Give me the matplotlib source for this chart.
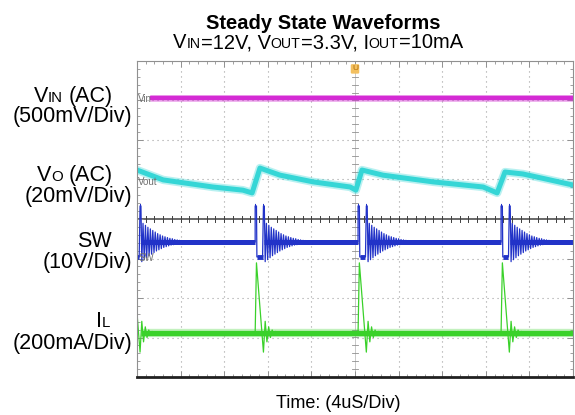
import numpy as np
import matplotlib.pyplot as plt
from matplotlib.ticker import MultipleLocator
from matplotlib.transforms import IdentityTransform

plt.rcParams['font.family'] = ['Liberation Sans', 'DejaVu Sans']

W, H = 575, 415

# scope screen is 10 x 8 divisions, all trace values are in divisions
vin_level = 3.06
vin_start = 0.3

vout_x = [0.00, 0.60, 1.74, 2.43, 2.64, 2.82, 3.28, 4.04, 4.89, 5.02,
          5.16, 5.64, 6.79, 7.94, 8.26, 8.44, 8.85, 9.47, 10.0]
vout_y = [1.24, 0.99, 0.81, 0.73, 0.66, 1.29, 1.11, 0.94, 0.81, 0.73,
          1.24, 1.11, 0.94, 0.81, 0.66, 1.19, 1.14, 0.99, 0.86]

# switching events (time of first SW pulse), pulse-skipping at light load
events = [-0.12, 2.71, 5.07, 8.35]

sw_base, sw_high, sw_low = -0.58, 0.33, -0.96
sw_ring = [0.50, 0.47, 0.45, 0.42, 0.40, 0.37, 0.35, 0.33, 0.31, 0.29, 0.27, 0.25,
           0.23, 0.21, 0.20, 0.18, 0.17, 0.15, 0.14, 0.13, 0.12, 0.11, 0.10, 0.09,
           0.08, 0.08, 0.07, 0.06, 0.06, 0.05, 0.05, 0.04, 0.04, 0.03]

il_base, il_peak, il_trough = -2.89, -1.11, -3.37
il_ring = [0.30, 0.22, 0.16, 0.11, 0.08, 0.05, 0.04]

c_vin, c_vout, c_sw, c_il = '#d42bd4', '#35d6d6', '#2233c8', '#3ad12a'

fig = plt.figure(figsize=(W / 100, H / 100), dpi=100)
ax = fig.add_axes([137 / W, 1 - 377 / H, 436 / W, 316 / H])
ax.set_xlim(0, 10)
ax.set_ylim(-4, 4)

# graticule
for i in range(1, 10):
    if i != 5:
        ax.axvline(i, color='#a0a0a0', lw=0.8, ls=(0, (1, 3.5)), zorder=0)
for j in range(-3, 4):
    if j != 0:
        ax.axhline(j, color='#a0a0a0', lw=0.8, ls=(0, (1, 3.5)), zorder=0)
ax.axhline(0, color='#404040', lw=1.1, zorder=0)
ax.axvline(5, color='#c0c0c0', lw=0.6, zorder=0)
for k in np.arange(0.2, 10, 0.2):
    ax.plot([k, k], [-0.08, 0.08], color='#404040', lw=0.7, zorder=0)
for k in np.arange(-3.8, 4, 0.2):
    ax.plot([4.93, 5.07], [k, k], color='#909090', lw=0.6, zorder=0)

ax.xaxis.set_major_locator(MultipleLocator(1))
ax.xaxis.set_minor_locator(MultipleLocator(0.2))
ax.yaxis.set_major_locator(MultipleLocator(1))
ax.yaxis.set_minor_locator(MultipleLocator(0.2))
ax.tick_params(which='both', direction='in', top=True, right=True,
               labelbottom=False, labelleft=False, color='#909090')
ax.tick_params(which='major', length=4, width=0.7)
ax.tick_params(which='minor', length=2.5, width=0.6)
for s in ['left', 'top', 'right']:
    ax.spines[s].set_color('#909090')
    ax.spines[s].set_linewidth(0.8)
ax.spines['bottom'].set_color('#202020')
ax.spines['bottom'].set_linewidth(2.0)

# VIN
ax.plot([vin_start, 10], [vin_level, vin_level], color=c_vin, lw=5, alpha=0.35, solid_capstyle='butt')
ax.plot([vin_start, 10], [vin_level, vin_level], color=c_vin, lw=3.2, solid_capstyle='butt')

# VOUT
ax.plot(vout_x, vout_y, color=c_vout, lw=6, alpha=0.35)
ax.plot(vout_x, vout_y, color=c_vout, lw=3.6)

# SW: baseline band between events, thin line for edges and ringing
seg_start = 0.0
for t0 in events + [10.4]:
    if t0 > seg_start:
        ax.plot([seg_start, min(t0, 10)], [sw_base, sw_base], color=c_sw, lw=3.6, solid_capstyle='butt')
    seg_start = t0 + 0.21
for t0 in events:
    xs = [t0, t0, t0 + 0.03, t0 + 0.04, t0 + 0.17, t0 + 0.19, t0 + 0.21]
    ys = [sw_base, sw_high, sw_high, sw_low, sw_low, sw_high, sw_high]
    for k, a in enumerate(sw_ring):
        xs.append(t0 + 0.23 + k * 0.028)
        ys.append(sw_base - a if k % 2 == 0 else sw_base + a)
    ax.plot(xs, ys, color=c_sw, lw=0.9)
    ax.plot([t0 + 0.04, t0 + 0.17], [sw_low, sw_low], color=c_sw, lw=3.5, solid_capstyle='butt')
    ax.plot([t0, t0 + 0.03], [sw_high, sw_high], color=c_sw, lw=3.0, solid_capstyle='butt')
    ax.plot([t0 + 0.19, t0 + 0.21], [sw_high, sw_high], color=c_sw, lw=3.0, solid_capstyle='butt')

# IL
ax.plot([0.1, 10], [il_base, il_base], color=c_il, lw=6, alpha=0.3, solid_capstyle='butt')
ax.plot([0.1, 10], [il_base, il_base], color=c_il, lw=3.8, solid_capstyle='butt')
for t0 in events:
    xs = [t0, t0 + 0.03, t0 + 0.19]
    ys = [il_base, il_peak, il_trough]
    for k, a in enumerate(il_ring):
        xs.append(t0 + 0.23 + k * 0.04)
        ys.append(il_base + a if k % 2 == 0 else il_base - a)
    ax.plot(xs, ys, color=c_il, lw=0.9)

# scope channel tags and trigger marker
tag = dict(color='#707070', fontsize=7, va='center', ha='left')
ax.text(0.03, 3.04, 'Vin', **tag)
ax.text(0.03, 0.94, 'Vout', **tag)
ax.text(0.03, -0.99, 'SW', **tag)
ax.text(5.0, 3.8, 'U', color='#b06a00', fontsize=6, ha='center', va='center',
        bbox=dict(boxstyle='round,pad=0.15', fc='#f3c060', ec='none'))

renderer = fig.canvas.get_renderer()


def rich_text(x, y, parts, size, ha='center', weight='normal'):
    """parts: (text, small, gap_em). x, y in pixels from top-left, y is baseline."""
    objs, widths = [], []
    for s, small, gap in parts:
        fs = size * (0.7 if small else 1.0)
        t = fig.text(0, H - y, s, transform=IdentityTransform(), fontsize=fs,
                     fontweight=weight, va='baseline', ha='left')
        objs.append(t)
        widths.append(t.get_window_extent(renderer).width + gap * size * 100 / 72)
    total = sum(widths)
    if ha == 'center':
        cur = x - total / 2
    elif ha == 'right':
        cur = x - total
    else:
        cur = x
    for t, w, (s, small, gap) in zip(objs, widths, parts):
        cur += gap * size * 100 / 72
        t.set_x(cur)
        cur += w - gap * size * 100 / 72


rich_text(323, 29, [('Steady State Waveforms', False, 0)], 14.5, weight='bold')
rich_text(318, 48, [('V', False, 0), ('IN', True, 0), ('=12V, V', False, 0), ('OUT', True, 0),
                    ('=3.3V, I', False, 0), ('OUT', True, 0), ('=10mA', False, 0)], 14.5)

lab = 15.5
rich_text(113, 102, [('V', False, 0), ('IN', True, 0), ('(AC)', False, 0.28)], lab, ha='right')
rich_text(132, 122, [('(500mV/Div)', False, 0)], lab, ha='right')
rich_text(113, 181, [('V', False, 0), ('O', True, 0), ('(AC)', False, 0.28)], lab, ha='right')
rich_text(132, 202, [('(20mV/Div)', False, 0)], lab, ha='right')
rich_text(112, 247, [('SW', False, 0)], lab, ha='right')
rich_text(132, 268, [('(10V/Div)', False, 0)], lab, ha='right')
rich_text(110, 327, [('I', False, 0), ('L', True, 0)], lab, ha='right')
rich_text(132, 349, [('(200mA/Div)', False, 0)], lab, ha='right')

rich_text(338, 408, [('Time: (4uS/Div)', False, 0)], 13)

fig.savefig('out.png', dpi=100)
